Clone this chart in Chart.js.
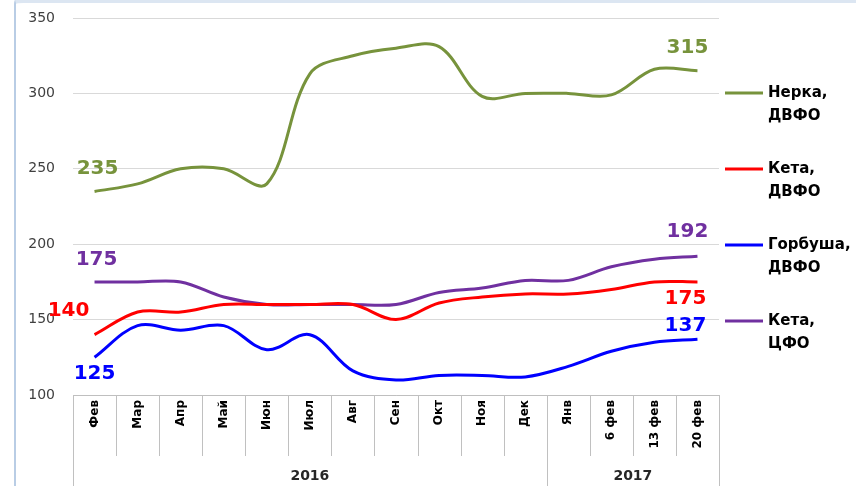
<!DOCTYPE html>
<html><head><meta charset="utf-8">
<script src="https://cdn.jsdelivr.net/npm/chart.js@4.4.1/dist/chart.umd.min.js"></script>
<style>
html,body{margin:0;padding:0;background:#fff;}
#wrap{position:relative;width:856px;height:486px;overflow:hidden;background:#fff;}
#frame{position:absolute;left:14px;top:-6px;width:900px;height:600px;border-left:2px solid #b9cde5;border-top:9px solid #dce6f2;border-top-left-radius:10px;pointer-events:none;}
canvas{position:absolute;left:0;top:0;}
</style></head><body>
<div id="wrap"><canvas id="c" width="856" height="486"></canvas><div id="frame"></div></div>
<script>
// ---- data ----
const categories = ['Фев','Мар','Апр','Май','Июн','Июл','Авг','Сен','Окт','Ноя','Дек','Янв','6 фев','13 фев','20 фев'];
const yearLabels = ['2016','2017'];
const yearStartIndex = [0, 11];
const yTicks = [100,150,200,250,300,350];
const seriesNames = [['Нерка,','ДВФО'],['Кета,','ДВФО'],['Горбуша,','ДВФО'],['Кета,','ЦФО']];
const nerkaDVFO   = [235,240,250,250,240,313,325,330,331,298,300,300,299,316,315];
const ketaDVFO    = [140,155,155,160,160,160,160,150,161,165,167,167,170,175,175];
const gorbushaDVFO= [125,146,143,146,130,140,116,110,113,113,112,119,129,135,137];
const ketaCFO     = [175,175,175,165,160,160,160,160,168,171,176,176,185,190,192];

// ---- style ----
const colors = ['#77933C','#FF0000','#0000FF','#7030A0'];
const labelOffsets = [ // [dx,dy] for first and last value labels
  {first:[3,-23], last:[-10,-23]},
  {first:[-26,-24], last:[-12,17]},
  {first:[0,16], last:[-12,-13]},
  {first:[2,-22], last:[-10,-24]}
];

const seriesData = [nerkaDVFO, ketaDVFO, gorbushaDVFO, ketaCFO];

const customDraw = {
  id:'customDraw',
  afterDatasetsDraw(chart){
    const ctx = chart.ctx;
    const ca = chart.chartArea;
    const xs = chart.scales.x;
    // value labels
    ctx.save();
    ctx.font = 'bold 20px "DejaVu Sans"';
    ctx.textAlign = 'center';
    ctx.textBaseline = 'middle';
    chart.data.datasets.forEach((ds, i) => {
      const meta = chart.getDatasetMeta(i);
      const p0 = meta.data[0], pN = meta.data[meta.data.length-1];
      ctx.fillStyle = colors[i];
      ctx.fillText(String(ds.data[0]), p0.x + labelOffsets[i].first[0], p0.y + labelOffsets[i].first[1]);
      ctx.fillText(String(ds.data[ds.data.length-1]), pN.x + labelOffsets[i].last[0], pN.y + labelOffsets[i].last[1]);
    });
    ctx.restore();

    // x axis category labels & separators
    ctx.save();
    const n = categories.length;
    const half = (xs.getPixelForValue(1) - xs.getPixelForValue(0)) / 2;
    ctx.strokeStyle = '#c0c0c0';
    ctx.lineWidth = 1;
    for (let i = 0; i <= n; i++) {
      const x = Math.round((i < n ? xs.getPixelForValue(i) - half : xs.getPixelForValue(n-1) + half)) + 0.5;
      const isGroup = yearStartIndex.includes(i) || i === n;
      ctx.beginPath();
      ctx.moveTo(x, ca.bottom);
      ctx.lineTo(x, isGroup ? chart.height : ca.bottom + 61);
      ctx.stroke();
    }
    ctx.fillStyle = '#000';
    ctx.font = 'bold 12px "DejaVu Sans"';
    ctx.textAlign = 'right';
    ctx.textBaseline = 'middle';
    categories.forEach((c, i) => {
      const x = xs.getPixelForValue(i);
      ctx.save();
      ctx.translate(x, ca.bottom + 5);
      ctx.rotate(-Math.PI/2);
      ctx.fillText(c, 0, 0);
      ctx.restore();
    });
    ctx.fillStyle = '#262626';
    ctx.font = 'bold 14px "DejaVu Sans"';
    ctx.textAlign = 'center';
    yearLabels.forEach((y, k) => {
      const a = yearStartIndex[k];
      const b = k + 1 < yearStartIndex.length ? yearStartIndex[k+1] - 1 : n - 1;
      const x = (xs.getPixelForValue(a) - half + xs.getPixelForValue(b) + half) / 2;
      ctx.fillText(y, x, ca.bottom + 81);
    });
    ctx.restore();

    // legend
    ctx.save();
    ctx.font = 'bold 15px "DejaVu Sans"';
    ctx.textAlign = 'left';
    ctx.textBaseline = 'middle';
    seriesNames.forEach((nm, i) => {
      const y = ca.top + 75 + i * 76;
      ctx.strokeStyle = colors[i];
      ctx.lineWidth = 3;
      ctx.beginPath();
      ctx.moveTo(ca.right + 6, y);
      ctx.lineTo(ca.right + 44, y);
      ctx.stroke();
      ctx.fillStyle = '#000';
      ctx.fillText(nm[0], ca.right + 49, y);
      ctx.fillText(nm[1], ca.right + 49, y + 23);
    });
    ctx.restore();
  }
};

new Chart(document.getElementById('c'), {
  type:'line',
  data:{
    labels: categories,
    datasets: seriesData.map((d, i) => ({
      label: seriesNames[i].join(' '),
      data: d,
      borderColor: colors[i],
      backgroundColor: colors[i],
      borderWidth: 3,
      pointRadius: 0,
      tension: 0.35,
      fill: false
    }))
  },
  options:{
    responsive:false,
    animation:false,
    events:[],
    layout:{padding:{top:18, right:137, bottom:0, left:0}},
    plugins:{legend:{display:false}, tooltip:{enabled:false}},
    scales:{
      x:{
        offset:true,
        ticks:{display:false},
        grid:{display:false},
        border:{display:true, color:'#bfbfbf', width:1},
        afterFit(s){ s.height = 91; s.paddingLeft = 0; s.paddingRight = 0; }
      },
      y:{
        min:100, max:350,
        afterBuildTicks(s){ s.ticks = yTicks.map(v => ({value:v})); },
        ticks:{font:{family:'DejaVu Sans', size:14}, color:'#404040', padding:18},
        grid:{color:'#d9d9d9', drawTicks:false},
        border:{display:false},
        afterFit(s){ s.width = 73; s.paddingTop = 0; s.paddingBottom = 0; }
      }
    }
  },
  plugins:[customDraw]
});
</script>
</body></html>
